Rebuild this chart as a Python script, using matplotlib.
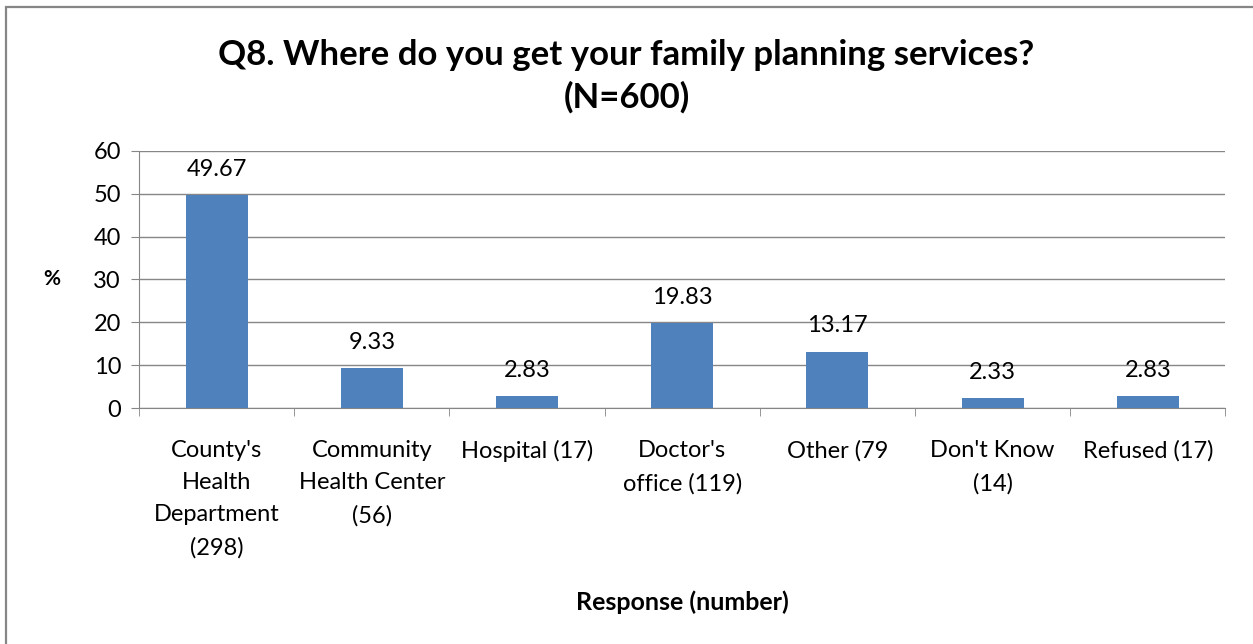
import matplotlib.pyplot as plt
from matplotlib.patches import Rectangle

categorias = ["County's\nHealth\nDepartment\n(298)", "Community\nHealth Center\n(56)",
              "Hospital (17)", "Doctor's\noffice (119)", "Other (79",
              "Don't Know\n(14)", "Refused (17)"]
porcentajes = [49.67, 9.33, 2.83, 19.83, 13.17, 2.33, 2.83]
ticks_y = [0, 10, 20, 30, 40, 50, 60]

plt.rcParams['font.family'] = ['Lato', 'DejaVu Sans']

fig = plt.figure(figsize=(12.53, 6.44), dpi=100)
ax = fig.add_axes([0.111, 0.366, 0.867, 0.400])

# marco exterior del grafico (sigue mas alla del borde derecho e inferior)
fig.patches.append(Rectangle((0.005, -0.05), 1.1, 1.039, transform=fig.transFigure,
                             fill=False, edgecolor='#868686', linewidth=1.6))

x = range(len(categorias))
ax.bar(x, porcentajes, width=0.4, color='#4F81BD', zorder=3)

for xi, v in zip(x, porcentajes):
    ax.annotate(f"{v:.2f}", (xi, v), xytext=(0, 11), textcoords='offset points',
                ha='center', va='bottom', fontsize=17)

ax.set_xlim(-0.5, len(categorias) - 0.5)
ax.set_ylim(0, 60)
ax.set_yticks(ticks_y)
ax.tick_params(axis='y', labelsize=17, length=6, color='#868686', pad=7)
ax.grid(axis='y', color='#868686', linewidth=1, zorder=0)

# categorias centradas, marcas en los limites entre categorias
ax.set_xticks(list(x))
ax.set_xticklabels(categorias, fontsize=17, va='top')
for etiqueta in ax.get_xticklabels():
    etiqueta.set_linespacing(1.65)
ax.tick_params(axis='x', length=0, pad=23)
ax.set_xticks([i - 0.5 for i in range(len(categorias) + 1)], minor=True)
ax.tick_params(axis='x', which='minor', length=6, color='#868686')

for lado in ['top', 'right']:
    ax.spines[lado].set_visible(False)
for lado in ['left', 'bottom']:
    ax.spines[lado].set_color('#868686')

ax.set_ylabel('%', fontsize=15, fontweight='bold', rotation=0, va='center')
ax.yaxis.set_label_coords(-0.08, 0.5)
ax.set_xlabel('Response (number)', fontsize=18, fontweight='bold', va='center')
ax.xaxis.set_label_coords(0.5, -0.753)

fig.suptitle('Q8. Where do you get your family planning services?\n(N=600)',
             fontsize=25, fontweight='bold', y=0.94, va='top', linespacing=1.4)

fig.savefig('out.png', dpi=100)
